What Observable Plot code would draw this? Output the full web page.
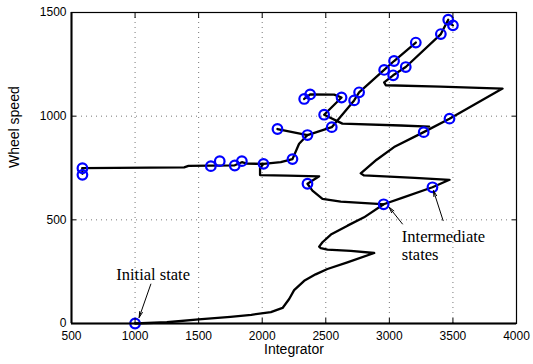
<!DOCTYPE html>
<html><head><meta charset="utf-8">
<script src="https://cdn.jsdelivr.net/npm/d3@7"></script>
<script src="https://cdn.jsdelivr.net/npm/@observablehq/plot@0.6"></script>
<style>body{margin:0;background:#fff}</style>
</head><body><div id="chart"></div>
<script>
const xTicks = [500, 1000, 1500, 2000, 2500, 3000, 3500, 4000];
const yTicks = [0, 500, 1000, 1500];

// trajectory pieces [integrator, wheel speed]
const mainPath = [[1000,0],[1250,6],[1500,20],[1750,32],[1914,42],[2068,55],[2160,75],[2212,118],[2251,161],[2330,206],[2420,237],[2513,263],[2670,295],[2881,340],[2697,350],[2513,356],[2461,363],[2448,371],[2474,392],[2540,429],[2671,472],[2801,512],[2955,575],[3100,606],[3339,657],[3473,693],[3200,702],[2801,714],[2775,724],[2900,790],[3037,851],[3270,923],[3473,988],[3890,1133],[3400,1142],[2972,1149],[2959,1163],[3030,1197],[3129,1237],[3405,1396],[3463,1465]];
const leftPath = [[586,749],[1386,753],[1420,760],[1596,761],[1784,763],[1840,778],[1880,771],[2010,770],[2146,778],[2238,793],[2290,867],[2356,909]];
const resetPath = [[2010,770],[1983,750],[1983,716],[2200,713],[2448,710],[2356,674],[2395,641],[2474,601],[2618,588],[2907,577],[2955,575]];
const crossPath = [[2120,938],[2356,909],[2547,947],[2723,1076],[2762,1115],[2959,1223],[3037,1266],[3208,1355]];
const upperPath = [[2330,1083],[2377,1105],[2566,1104],[2624,1090],[2487,1007],[2631,964],[3090,955],[3313,950]];
const stubPath = [[586,749],[586,722]];
const topStub = [[3466,1452],[3500,1438]];

const statesX = [1000, 586, 586, 1596, 1666, 1784, 1840, 2010, 2120, 2238, 2356, 2356, 2547, 2487, 2330, 2377, 2624, 2762, 2723, 2959, 3037, 3030, 3129, 3208, 3405, 3463, 3500, 3270, 3473, 2955, 3339];
const statesY = [0, 749, 717, 759, 783, 762, 783, 770, 938, 793, 909, 674, 947, 1007, 1083, 1105, 1090, 1115, 1076, 1223, 1266, 1197, 1237, 1355, 1396, 1465, 1438, 923, 988, 575, 657];

const noteText = ["Initial state", "Intermediate\nstates"];
const noteX = [1142, 3098];
const noteY = [235, 452];

const arrowX1 = [1124, 3103, 3423];
const arrowY1 = [190, 480, 496];
const arrowX2 = [1032, 2998, 3347];
const arrowY2 = [29, 561, 641];

const pieces = [mainPath, leftPath, resetPath, crossPath, upperPath, stubPath, topStub];
const lines = pieces.flatMap((p, i) => p.map(([x, y]) => ({x, y, id: i})));
const states = statesX.map((x, i) => ({x, y: statesY[i]}));
const notes = noteText.map((t, i) => ({t, x: noteX[i], y: noteY[i]}));
const arrows = arrowX1.map((x1, i) => ({x1, y1: arrowY1[i], x2: arrowX2[i], y2: arrowY2[i]}));
const none = () => "";
const serif = "'Liberation Serif', 'Times New Roman', serif";

const chart = Plot.plot({
  width: 533, height: 364,
  marginLeft: 71, marginRight: 17, marginTop: 12, marginBottom: 41,
  x: {domain: [500, 4000]},
  y: {domain: [0, 1500]},
  style: {fontFamily: "'Liberation Sans', Arial, sans-serif", fontSize: "12px", background: "white", color: "black"},
  marks: [
    Plot.gridX(xTicks.slice(1, -1), {stroke: "#777", strokeOpacity: 1, strokeDasharray: "1,4"}),
    Plot.gridY(yTicks.slice(1, -1), {stroke: "#777", strokeOpacity: 1, strokeDasharray: "1,4"}),
    Plot.line(lines, {x: "x", y: "y", z: "id", stroke: "black", strokeWidth: 2.3, strokeLinejoin: "round"}),
    Plot.dot(states, {x: "x", y: "y", r: 4.8, stroke: "#0000ff", strokeWidth: 2.2, fill: "none"}),
    Plot.arrow(arrows, {x1: "x1", y1: "y1", x2: "x2", y2: "y2", stroke: "black", strokeWidth: 1, headLength: 9, headAngle: 28}),
    Plot.text(notes.slice(0, 1), {x: "x", y: "y", text: "t", textAnchor: "middle", lineAnchor: "middle", fontFamily: serif, fontSize: 16.5}),
    Plot.text(notes.slice(1), {x: "x", y: "y", text: "t", textAnchor: "start", lineAnchor: "top", lineHeight: 1.07, fontFamily: serif, fontSize: 16.5}),
    Plot.frame({stroke: "black", strokeWidth: 1.2}),
    Plot.ruleX([500], {stroke: "black", strokeWidth: 2}),
    Plot.ruleY([0], {stroke: "black", strokeWidth: 2}),
    Plot.axisX(xTicks, {anchor: "bottom", tickSize: 0, tickPadding: 8, tickFormat: "d", label: null, fontSize: 12}),
    Plot.axisX(xTicks, {anchor: "bottom", tickSize: 5, dy: -5, tickFormat: none, label: null}),
    Plot.axisX(xTicks, {anchor: "top", tickSize: 5, dy: 5, tickFormat: none, label: null}),
    Plot.axisY(yTicks, {anchor: "left", tickSize: 0, tickPadding: 5, tickFormat: "d", label: null, fontSize: 12}),
    Plot.axisY(yTicks, {anchor: "left", tickSize: 5, dx: 5, tickFormat: none, label: null}),
    Plot.axisY(yTicks, {anchor: "right", tickSize: 5, dx: -5, tickFormat: none, label: null}),
    Plot.text(["Integrator"], {frameAnchor: "bottom", dy: 30, fontSize: 14}),
    Plot.text(["Wheel speed"], {frameAnchor: "left", rotate: -90, dx: -57, fontSize: 14})
  ]
});
document.getElementById("chart").appendChild(chart);
</script>
</body></html>
